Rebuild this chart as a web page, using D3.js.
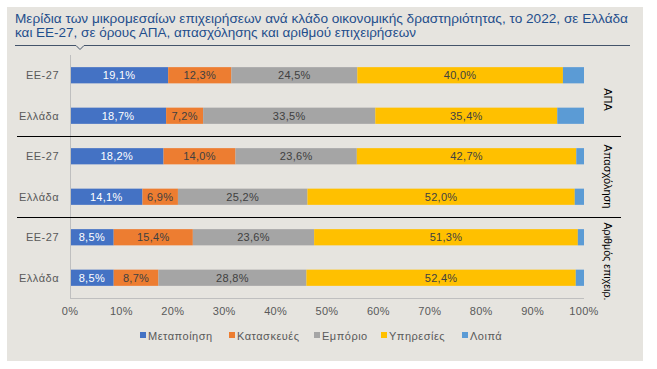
<!DOCTYPE html>
<html><head><meta charset="utf-8">
<script src="https://cdn.jsdelivr.net/npm/d3@7/dist/d3.min.js"></script>
<style>body{margin:0;background:#fff;}svg{display:block;font-family:"Liberation Sans",Arial,sans-serif;}</style>
</head><body><svg id="c" width="657" height="369"></svg>
<script>
const rows = ["ΑΠΑ|ΕΕ-27","ΑΠΑ|Ελλάδα","ΑΠ|ΕΕ-27","ΑΠ|Ελλάδα","ΑΕ|ΕΕ-27","ΑΕ|Ελλάδα"];
const rowLabels = ["ΕΕ-27","Ελλάδα","ΕΕ-27","Ελλάδα","ΕΕ-27","Ελλάδα"];
const series = ["Μεταποίηση","Κατασκευές","Εμπόριο","Υπηρεσίες","Λοιπά"];
const manufacturing = [19.1, 18.7, 18.2, 14.1, 8.5, 8.5];
const construction  = [12.3, 7.2, 14.0, 6.9, 15.4, 8.7];
const trade         = [24.5, 33.5, 23.6, 25.2, 23.6, 28.8];
const services      = [40.0, 35.4, 42.7, 52.0, 51.3, 52.4];
const other         = [4.1, 5.2, 1.5, 1.8, 1.2, 1.6];
const groups = ["ΑΠΑ","Απασχόληση","Αριθμός επιχειρ."];
const xTicks = [0,10,20,30,40,50,60,70,80,90,100];
const title1 = "Μερίδια των μικρομεσαίων επιχειρήσεων ανά κλάδο οικονομικής δραστηριότητας, το 2022, σε Ελλάδα";
const title2 = "και ΕΕ-27, σε όρους ΑΠΑ, απασχόλησης και αριθμού επιχειρήσεων";

const colors = ["#4472c4","#ed7d31","#a5a5a5","#ffc000","#5b9bd5"];
const labelColors = ["#ffffff","#404040","#404040","#404040",null];
const seriesVals = [manufacturing, construction, trade, services, other];

const svg = d3.select("#c");
svg.append("rect").attr("x",7).attr("y",7).attr("width",636).attr("height",354).attr("fill","#e6e4df");

// title
svg.append("text").attr("x",15).attr("y",23).attr("fill","#1f4e8c").attr("font-size",13)
  .attr("textLength",613).attr("lengthAdjust","spacingAndGlyphs").text(title1);
svg.append("text").attr("x",15).attr("y",37).attr("fill","#1f4e8c").attr("font-size",13)
  .attr("textLength",401).attr("lengthAdjust","spacingAndGlyphs").text(title2);
svg.append("path").attr("d","M15,45.5H76l4,4l4,-4H630").attr("fill","none").attr("stroke","#44546a").attr("stroke-width",1);

const x = d3.scaleLinear().domain([0,100]).range([70,584]);
const y = d3.scaleBand().domain(rows).range([55,298]).paddingInner(0.6).paddingOuter(0.3);

// stacked data
const table = rows.map((r,i)=>{const o={row:r}; series.forEach((s,j)=>o[s]=seriesVals[j][i]); return o;});
const stack = d3.stack().keys(series)(table);

stack.forEach((layer,j)=>{
  const g = svg.append("g");
  g.selectAll("rect").data(layer).join("rect")
    .attr("x",d=>x(d[0])).attr("width",d=>x(d[1])-x(d[0]))
    .attr("y",d=>y(d.data.row)).attr("height",y.bandwidth())
    .attr("fill",colors[j]);
  if(labelColors[j]){
    g.selectAll("text").data(layer).join("text")
      .attr("x",d=>(x(d[0])+x(d[1]))/2).attr("y",d=>y(d.data.row)+y.bandwidth()/2+4)
      .attr("text-anchor","middle").attr("font-size",11).attr("letter-spacing",0.3).attr("fill",labelColors[j])
      .text(d=>d3.format(".1f")(d[1]-d[0]).replace(".",",")+"%");
  }
});

// axes lines
svg.append("line").attr("x1",70.5).attr("x2",70.5).attr("y1",55).attr("y2",298).attr("stroke","#bfbfbf");
svg.append("line").attr("x1",70).attr("x2",584).attr("y1",298.5).attr("y2",298.5).attr("stroke","#bfbfbf");

// category labels
svg.append("g").selectAll("text").data(rows).join("text")
  .attr("x",59).attr("y",d=>y(d)+y.bandwidth()/2+4).attr("text-anchor","end")
  .attr("font-size",11).attr("letter-spacing",0.5).attr("fill","#595959").text((d,i)=>rowLabels[i]);

// x tick labels
svg.append("g").selectAll("text").data(xTicks).join("text")
  .attr("x",d=>x(d)).attr("y",315).attr("text-anchor","middle")
  .attr("font-size",11).attr("letter-spacing",0.3).attr("fill","#595959").text(d=>d+"%");

// separators
const step = y.step();
[2,4].forEach(k=>{
  const yy = Math.round(55 + step*k)+0.5;
  svg.append("line").attr("x1",17).attr("x2",621).attr("y1",yy).attr("y2",yy).attr("stroke","#000").attr("stroke-width",1);
});

// group labels (rotated)
const groupOffset = [4, 0, 4];
const groupLen = [null, null, 78];
groups.forEach((gname,k)=>{
  const cy = 55 + step*(2*k+1) + groupOffset[k];
  const t = svg.append("text").attr("transform",`translate(604,${cy}) rotate(90)`)
    .attr("text-anchor","middle").attr("font-size",11).attr("fill","#000").text(gname);
  if(groupLen[k]) t.attr("textLength",groupLen[k]).attr("lengthAdjust","spacingAndGlyphs");
});

// legend
const legX = [140,229,314,381,462];
series.forEach((s,j)=>{
  svg.append("rect").attr("x",legX[j]).attr("y",332).attr("width",6).attr("height",6).attr("fill",colors[j]);
  svg.append("text").attr("x",legX[j]+8).attr("y",339.5).attr("font-size",11).attr("letter-spacing",0.5).attr("fill","#595959").text(s);
});
</script></body></html>
